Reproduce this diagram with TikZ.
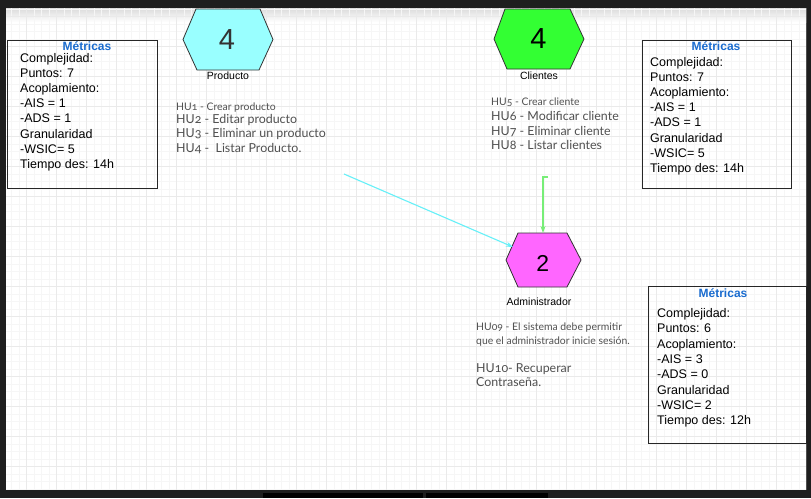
\documentclass[tikz,border=0pt]{standalone}
\usepackage{fontspec}
\setmainfont{Liberation Sans}
\newfontfamily\hufont[Numbers=OldStyle]{Lato}
\usetikzlibrary{arrows.meta}
\definecolor{framec}{HTML}{1E1E1E}
\definecolor{gridmajor}{HTML}{EAEAEA}
\definecolor{gridminor}{HTML}{F6F6F6}
\definecolor{metblue}{HTML}{1A6CCF}
\definecolor{hugray}{HTML}{505050}
\definecolor{prodcyan}{HTML}{99FFFF}
\definecolor{cligreen}{HTML}{33FF33}
\definecolor{admmag}{HTML}{FF66FF}
\definecolor{arrcyan}{HTML}{66F0F8}
\definecolor{arrgreen}{HTML}{77EE77}
\begin{document}
\begin{tikzpicture}[x=1pt,y=-1pt,
  metbox/.style={draw=black!85, line width=0.9pt},
  mtitle/.style={font=\fontsize{12}{14}\selectfont\bfseries, text=metblue, inner sep=0, anchor=base},
  mline/.style={font=\fontsize{12.5}{15}\selectfont, inner sep=0, anchor=base west},
  hutext/.style={font=\hufont\fontsize{12.4}{14}\selectfont, text=hugray, inner sep=0, anchor=base west},
  husmall/.style={hutext, font=\hufont\fontsize{10.4}{12}\selectfont},
  hexlabel/.style={font=\fontsize{10.5}{12}\selectfont, inner sep=0, anchor=base},
  hexnum/.style={font=\fontsize{29}{32}\selectfont, inner sep=0},
  hexshape/.style={draw=black!80, line width=0.8pt},
  conn/.style={line width=1.1pt, -{Stealth[length=7pt,width=5pt]}}
]
\useasboundingbox (0,0) rectangle (811,498);
% frame
\fill[framec] (0,0) rectangle (811,498);
\fill[white] (6,8) rectangle (806,490);
\shade[top color=black!14, bottom color=white] (6,8) rectangle (806,22);
\fill[black] (263,492.5) rectangle (423,498);
\fill[black] (426,492.5) rectangle (548,498);
% grid
\begin{scope}
\clip (6,8) rectangle (806,490);
\foreach \x in {0,...,107} \draw[gridminor, line width=0.5pt] ({11.7+7.5*\x},8) -- ({11.7+7.5*\x},490);
\foreach \y in {0,...,65} \draw[gridminor, line width=0.5pt] (6,{9.2+7.5*\y}) -- (806,{9.2+7.5*\y});
\foreach \x in {0,...,26} \draw[gridmajor, line width=0.7pt] ({26.7+30*\x},8) -- ({26.7+30*\x},490);
\foreach \y in {0,...,16} \draw[gridmajor, line width=0.7pt] (6,{16.7+30*\y}) -- (806,{16.7+30*\y});
\end{scope}

% Producto hexagon
\filldraw[hexshape, fill=prodcyan] (183,39.5) -- (196,9) -- (260,9) -- (273,39.5) -- (259,70) -- (197,70) -- cycle;
\node[hexnum, text=black!80] (pnum) at (227,39.5) {4};
\node[hexlabel] (plab) at (228,79.5) {Producto};

% Clientes hexagon
\filldraw[hexshape, fill=cligreen] (494,39) -- (505,9) -- (570,9) -- (584,39) -- (570,69) -- (507,69) -- cycle;
\node[hexnum, text=black] (cnum) at (538.5,39) {4};
\node[hexlabel] (clab) at (539,79.5) {Clientes};

% Administrador hexagon
\filldraw[hexshape, fill=admmag] (506,260) -- (518,233) -- (567,233) -- (581,260) -- (567,287) -- (518,287) -- cycle;
\node[font=\fontsize{23}{26}\selectfont, inner sep=0, text=black] (anum) at (542.7,263) {2};
\node[hexlabel] (alab) at (539,305.5) {Administrador};

% HU texts
\node[husmall] (hu1) at (176,110) {HU1 - Crear producto};
\node[hutext] (hu2) at (176,123) {HU2 - Editar producto};
\node[hutext] (hu3) at (176,137) {HU3 - Eliminar un producto};
\node[hutext] (hu4) at (176,152) {HU4 -\ \ Listar Producto.};

\node[husmall] (hu5) at (491,105) {HU5 - Crear cliente};
\node[hutext] (hu6) at (491,120) {HU6 - Modificar cliente};
\node[hutext] (hu7) at (491,135) {HU7 - Eliminar cliente};
\node[hutext] (hu8) at (491,149) {HU8 - Listar clientes};

\node[husmall] (hu9a) at (476,330) {HU09 - El sistema debe permitir};
\node[husmall] (hu9b) at (476,344) {que el administrador inicie sesión.};
\node[hutext] (hu10a) at (476,372) {HU10- Recuperar};
\node[hutext] (hu10b) at (476,386) {Contraseña.};

% connectors
\coordinate (cstart) at (344,174);
\coordinate (admnw) at (513,247);
\coordinate (gstart) at (548,177);
\coordinate (gbend) at (543,177);
\coordinate (admn) at (543,233);
\draw[conn, arrcyan] (cstart) -- (admnw);
\draw[conn, arrgreen] (gstart) -- (gbend) -- (admn);

% Metric boxes
\draw[metbox] (7,40) rectangle (157,188);
\node[mtitle] (mt1) at (87,50.5) {Métricas};
\foreach \t [count=\i] in {Complejidad:,Puntos: 7,Acoplamiento:,-AIS = 1,-ADS = 1,Granularidad,-WSIC= 5,Tiempo des: 14h}
  \node[mline] (ma\i) at (20,{62.5+15.1*(\i-1)}) {\t};

\draw[metbox] (642,40) rectangle (791,188);
\node[mtitle] (mt2) at (716,50.5) {Métricas};
\foreach \t [count=\i] in {Complejidad:,Puntos: 7,Acoplamiento:,-AIS = 1,-ADS = 1,Granularidad,-WSIC= 5,Tiempo des: 14h}
  \node[mline] (mb\i) at (650,{66.5+15.1*(\i-1)}) {\t};

\draw[metbox] (648,286) rectangle (806,443);
\node[mtitle] (mt3) at (723,297.5) {Métricas};
\foreach \t [count=\i] in {Complejidad:,Puntos: 6,Acoplamiento:,-AIS = 3,-ADS = 0,Granularidad,-WSIC= 2,Tiempo des: 12h}
  \node[mline] (mc\i) at (657,{317.5+15.3*(\i-1)}) {\t};
\end{tikzpicture}
\end{document}
